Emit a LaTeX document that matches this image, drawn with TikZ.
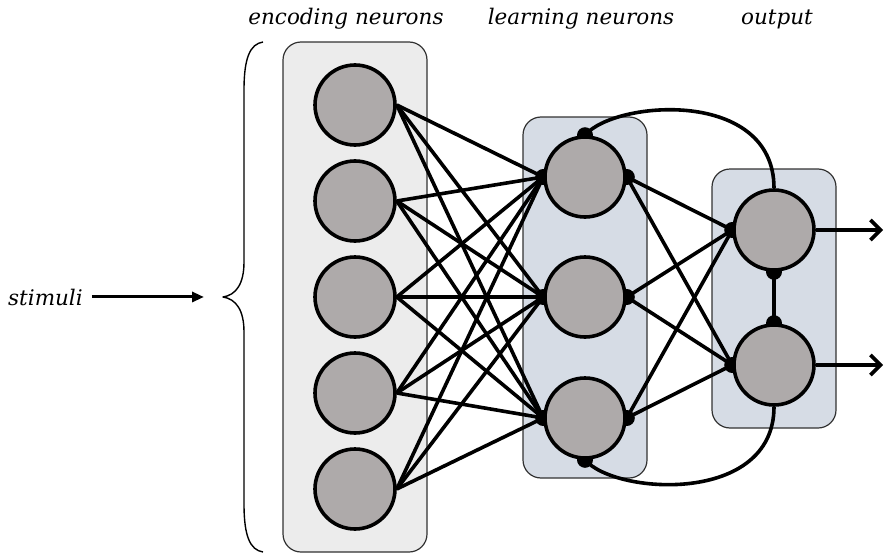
\documentclass[tikz,border=0pt]{standalone}
\usepackage{fontspec}
\setmainfont{DejaVu Serif}
\usetikzlibrary{arrows.meta}
\definecolor{neurongray}{RGB}{174,170,170}
\definecolor{encfill}{RGB}{236,236,236}
\definecolor{layfill}{RGB}{214,220,229}
\definecolor{panelline}{RGB}{50,50,50}
\pgfdeclarelayer{back}
\pgfdeclarelayer{wires}
\pgfsetlayers{back,wires,main}
\begin{document}
\begin{tikzpicture}[x=1pt,y=-1pt,
  neuron/.style={circle,draw=black,fill=neurongray,line width=3.6pt,
                 minimum size=80pt,inner sep=0pt},
  panel/.style={draw=panelline,line width=1.2pt,rounded corners=18pt,
                inner sep=0pt},
  lbl/.style={font=\fontsize{21.5}{26}\selectfont\itshape,anchor=base,inner sep=0pt},
  wire/.style={line width=3.6pt,draw=black},
  synapse/.style={fill=black},
  outarrow/.style={wire,-{Straight Barb[length=10pt,width=20pt]}},
  inarrow/.style={line width=3pt,-{Triangle[length=12pt,width=10pt]}},
  bracestyle/.style={line width=1.4pt,line join=round}]
\useasboundingbox (0,0) rectangle (884,554);

% column titles
\node[lbl] (tenc) at (346,24) {encoding neurons};
\node[lbl] (tlearn) at (581,24) {learning neurons};
\node[lbl] (tout) at (777,24) {output};

% panels behind each layer
\begin{pgfonlayer}{back}
  \node[panel,fill=encfill,minimum width=144pt,minimum height=510pt] (encpanel) at (355,297) {};
  \node[panel,fill=layfill,minimum width=124pt,minimum height=361pt] (learnpanel) at (585,297.5) {};
  \node[panel,fill=layfill,minimum width=124pt,minimum height=259pt] (outpanel) at (774,298.5) {};
\end{pgfonlayer}

% neurons
\foreach \i/\y in {1/105,2/201,3/297,4/393,5/489}
  \node[neuron] (e\i) at (355,\y) {};
\foreach \j/\y in {1/177,2/297,3/418}
  \node[neuron] (l\j) at (585,\y) {};
\node[neuron] (o1) at (774,230) {};
\node[neuron] (o2) at (774,365) {};

% stimulus input and brace
\node[lbl,anchor=base west] (stim) at (8,305) {stimuli};
\coordinate (btip) at (223,297);
\coordinate (ahead) at (204,297);
\draw[inarrow,shorten <=9pt] (stim.east) -- (stim.east -| ahead);
\draw[bracestyle] (263,42) .. controls (250,44) and (244,58) .. (244,90)
  -- (244,262) .. controls (244,284) and (236,295) .. (btip)
  .. controls (236,299) and (244,310) .. (244,332)
  -- (244,504) .. controls (244,536) and (250,550) .. (263,552);

% output arrows
\coordinate (out1) at (883,230);
\coordinate (out2) at (883,365);

\begin{pgfonlayer}{wires}
  \foreach \i in {1,...,5}
    \foreach \j in {1,2,3}
      \draw[wire] (e\i.east) -- (l\j.west);
  \foreach \j in {1,2,3}
    \foreach \k in {1,2}
      \draw[wire] (l\j.east) -- (o\k.west);
  \draw[wire] (o1.south) -- (o2.north);
  \draw[wire] (l1.north) .. controls (615,100) and (774,88) .. (o1.north);
  \draw[wire] (l3.south) .. controls (615,495) and (774,505) .. (o2.south);
  \foreach \j in {1,2,3} {
    \fill[synapse] (l\j.west) circle[radius=8pt];
    \fill[synapse] (l\j.east) circle[radius=8pt];
  }
  \fill[synapse] (l1.north) circle[radius=8pt];
  \fill[synapse] (l3.south) circle[radius=8pt];
  \fill[synapse] (o1.west) circle[radius=8pt];
  \fill[synapse] (o2.west) circle[radius=8pt];
  \fill[synapse] (o1.south) circle[radius=8pt];
  \fill[synapse] (o2.north) circle[radius=8pt];
  \draw[outarrow] (o1.east) -- (out1);
  \draw[outarrow] (o2.east) -- (out2);
\end{pgfonlayer}
\end{tikzpicture}
\end{document}
